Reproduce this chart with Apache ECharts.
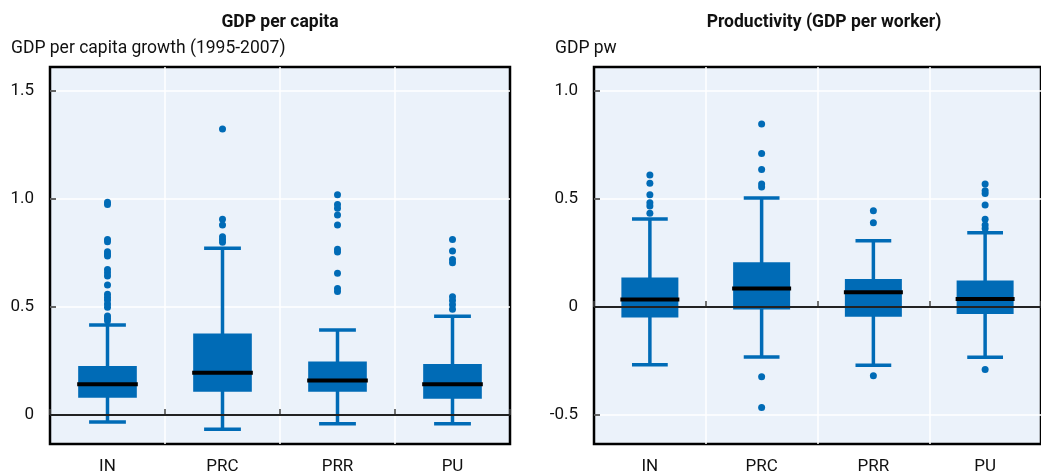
<!DOCTYPE html>
<html>
<head>
<meta charset="utf-8">
<script src="https://cdn.jsdelivr.net/npm/echarts@6/dist/echarts.min.js"></script>
<style>
html,body{margin:0;padding:0;background:#fff;}
#chart{width:1041px;height:475px;}
</style>
</head>
<body>
<div id="chart"></div>
<script>
// ---- Data ----
const categories = ['IN', 'PRC', 'PRR', 'PU'];

// GDP per capita growth (1995-2007): [low whisker, Q1, median, Q3, high whisker]
const gdpLow    = [-0.032, -0.066, -0.040, -0.040];
const gdpQ1     = [0.080, 0.108, 0.108, 0.076];
const gdpMedian = [0.143, 0.196, 0.160, 0.143];
const gdpQ3     = [0.227, 0.378, 0.248, 0.236];
const gdpHigh   = [0.417, 0.772, 0.394, 0.457];
const gdpOutIN  = [0.985, 0.975, 0.813, 0.802, 0.756, 0.745, 0.736, 0.674, 0.659, 0.644, 0.602, 0.559, 0.545, 0.532, 0.514, 0.499, 0.458, 0.448, 0.437];
const gdpOutPRC = [1.324, 0.906, 0.880, 0.825, 0.812, 0.800];
const gdpOutPRR = [1.020, 0.975, 0.957, 0.926, 0.880, 0.767, 0.755, 0.656, 0.586, 0.572];
const gdpOutPU  = [0.813, 0.759, 0.720, 0.705, 0.548, 0.530, 0.510, 0.490];

// Productivity (GDP per worker)
const pwLow    = [-0.267, -0.231, -0.270, -0.233];
const pwQ1     = [-0.048, -0.012, -0.045, -0.032];
const pwMedian = [0.035, 0.086, 0.068, 0.037];
const pwQ3     = [0.137, 0.207, 0.130, 0.123];
const pwHigh   = [0.407, 0.505, 0.307, 0.344];
const pwOutIN  = [0.611, 0.573, 0.520, 0.483, 0.468, 0.434];
const pwOutPRC = [0.847, 0.711, 0.636, 0.569, 0.555, -0.323, -0.465];
const pwOutPRR = [0.446, 0.390, -0.318];
const pwOutPU  = [0.569, 0.538, 0.525, 0.472, 0.406, 0.380, 0.364, -0.289];

const leftTitle = 'GDP per capita';
const leftUnit = 'GDP per capita growth (1995-2007)';
const rightTitle = 'Productivity (GDP per worker)';
const rightUnit = 'GDP pw';

// ---- Build ----
const BLUE = '#006BB6';
const FONT = 'Roboto, "Liberation Sans", sans-serif';

function boxData(low, q1, med, q3, high) {
  return categories.map((c, i) => [i, low[i], q1[i], med[i], q3[i], high[i]]);
}
function outData(lists) {
  const out = [];
  lists.forEach((arr, i) => arr.forEach(v => out.push([i, v])));
  return out;
}

function renderBox(params, api) {
  const x = api.value(0);
  const pLow = api.coord([x, api.value(1)]);
  const pQ1 = api.coord([x, api.value(2)]);
  const pMed = api.coord([x, api.value(3)]);
  const pQ3 = api.coord([x, api.value(4)]);
  const pHigh = api.coord([x, api.value(5)]);
  const bw = api.size([1, 0])[0];
  const boxW = bw * 0.51;
  const capW = bw * 0.32;
  const cx = pMed[0];
  return {
    type: 'group',
    children: [
      { type: 'line', shape: { x1: cx, y1: pLow[1], x2: cx, y2: pHigh[1] }, style: { stroke: BLUE, lineWidth: 3.5 } },
      { type: 'line', shape: { x1: cx - capW / 2, y1: pLow[1], x2: cx + capW / 2, y2: pLow[1] }, style: { stroke: BLUE, lineWidth: 3.5 } },
      { type: 'line', shape: { x1: cx - capW / 2, y1: pHigh[1], x2: cx + capW / 2, y2: pHigh[1] }, style: { stroke: BLUE, lineWidth: 3.5 } },
      { type: 'rect', shape: { x: cx - boxW / 2, y: pQ3[1], width: boxW, height: pQ1[1] - pQ3[1] }, style: { fill: BLUE } },
      { type: 'line', shape: { x1: cx - boxW / 2 - 1, y1: pMed[1], x2: cx + boxW / 2 + 1, y2: pMed[1] }, style: { stroke: '#000', lineWidth: 4 } }
    ]
  };
}

function fmt(v) {
  if (Math.abs(v) < 1e-9) return '0';
  return v.toFixed(1);
}

const gridCommon = {
  top: 67, bottom: 31, show: true,
  backgroundColor: '#EBF2FA', borderColor: '#000', borderWidth: 2.5
};

function xAxis(gi) {
  return {
    type: 'category', gridIndex: gi, data: categories,
    axisLine: { show: false },
    axisTick: { show: true, inside: true, length: 6, lineStyle: { color: '#444', width: 1.5 } },
    axisLabel: { color: '#111', fontSize: 17, fontFamily: FONT, margin: 14 },
    splitLine: { show: true, showMinLine: false, showMaxLine: false, lineStyle: { color: '#fff', width: 1.5 } }
  };
}
function yAxis(gi, min, max) {
  return {
    type: 'value', gridIndex: gi, min: min, max: max, splitNumber: 3,
    axisLine: { show: false },
    axisTick: { show: true, inside: true, length: 6, lineStyle: { color: '#333', width: 1.5 } },
    axisLabel: { color: '#111', fontSize: 17, fontFamily: FONT, margin: 16, showMinLabel: false, showMaxLabel: false, formatter: fmt },
    splitLine: { show: true, showMinLine: false, showMaxLine: false, lineStyle: { color: '#fff', width: 1.5 } }
  };
}

function panelSeries(gi, box, outs) {
  return [
    {
      type: 'line', xAxisIndex: gi, yAxisIndex: gi, data: [], z: 1, silent: true,
      markLine: { silent: true, symbol: 'none', label: { show: false },
        lineStyle: { color: '#222', width: 2, type: 'solid' }, data: [{ yAxis: 0 }] }
    },
    {
      type: 'custom', xAxisIndex: gi, yAxisIndex: gi, z: 3, data: box,
      encode: { x: 0, y: [1, 2, 3, 4, 5] }, renderItem: renderBox
    },
    {
      type: 'scatter', xAxisIndex: gi, yAxisIndex: gi, z: 4, data: outs,
      symbolSize: 7, itemStyle: { color: BLUE, opacity: 1 }
    }
  ];
}

const option = {
  animation: false,
  backgroundColor: '#fff',
  textStyle: { fontFamily: FONT },
  graphic: [
    { type: 'text', x: 280, y: 23, style: { text: leftTitle, textAlign: 'center', textVerticalAlign: 'middle', font: 'bold 17.5px ' + FONT, fill: '#111' } },
    { type: 'text', x: 11, y: 49, style: { text: leftUnit, textAlign: 'left', textVerticalAlign: 'middle', font: '17.5px ' + FONT, fill: '#111' } },
    { type: 'text', x: 824, y: 23, style: { text: rightTitle, textAlign: 'center', textVerticalAlign: 'middle', font: 'bold 17.5px ' + FONT, fill: '#111' } },
    { type: 'text', x: 555, y: 49, style: { text: rightUnit, textAlign: 'left', textVerticalAlign: 'middle', font: '17.5px ' + FONT, fill: '#111' } }
  ],
  grid: [
    Object.assign({ left: 50, right: 531 }, gridCommon),
    Object.assign({ left: 594, right: -13 }, gridCommon)
  ],
  xAxis: [xAxis(0), xAxis(1)],
  yAxis: [yAxis(0, -0.134, 1.611), yAxis(1, -0.634, 1.111)],
  series: [].concat(
    panelSeries(0, boxData(gdpLow, gdpQ1, gdpMedian, gdpQ3, gdpHigh), outData([gdpOutIN, gdpOutPRC, gdpOutPRR, gdpOutPU])),
    panelSeries(1, boxData(pwLow, pwQ1, pwMedian, pwQ3, pwHigh), outData([pwOutIN, pwOutPRC, pwOutPRR, pwOutPU]))
  )
};

const chart = echarts.init(document.getElementById('chart'), null, { renderer: 'canvas' });
chart.setOption(option);
</script>
</body>
</html>
